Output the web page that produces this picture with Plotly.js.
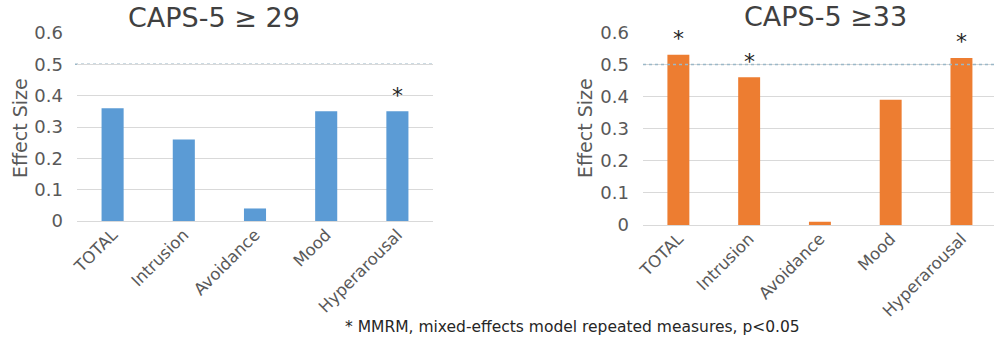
<!DOCTYPE html>
<html>
<head>
<meta charset="utf-8">
<script src="https://cdn.plot.ly/plotly-3.0.1.min.js"></script>
<style>html,body{margin:0;padding:0;background:#fff;}#chart{width:994px;height:341px;}</style>
</head>
<body>
<div id="chart"></div>
<script>
const categories = ["TOTAL", "Intrusion", "Avoidance", "Mood", "Hyperarousal"];
const effect29 = [0.36, 0.26, 0.04, 0.35, 0.35];
const effect33 = [0.53, 0.46, 0.01, 0.39, 0.52];
const sig29 = [false, false, false, false, true];
const sig33 = [true, true, false, false, true];
const threshold = 0.5;
const yTicks = [0, 0.1, 0.2, 0.3, 0.4, 0.5, 0.6];
const yTickText = ["0", "0.1", "0.2", "0.3", "0.4", "0.5", "0.6"];
const title29 = "CAPS-5 \u2265 29";
const title33 = "CAPS-5 \u226533";
const yTitle = "Effect Size";
const footnote = "* MMRM, mixed-effects model repeated measures, p<0.05";

const FONT = "DejaVu Sans, Verdana, sans-serif";
const GRAY = "#595959";

const traces = [
  {type: "bar", x: categories, y: effect29, xaxis: "x", yaxis: "y",
   marker: {color: "#5b9bd5"}, width: 0.31, hoverinfo: "x+y"},
  {type: "bar", x: categories, y: effect33, xaxis: "x2", yaxis: "y2",
   marker: {color: "#ed7d31"}, width: 0.31, hoverinfo: "x+y"}
];

function yaxisDef(domain, anchor) {
  return {
    domain: domain, range: [0, 0.6], tickvals: yTicks, ticktext: yTickText, anchor: anchor,
    showgrid: true, gridcolor: "#d9d9d9", gridwidth: 1,
    zeroline: true, zerolinecolor: "#d9d9d9", zerolinewidth: 1,
    showline: false, ticks: "", ticklen: 0, ticklabelstandoff: 13,
    tickfont: {family: FONT, size: 18, color: GRAY}
  };
}
function xaxisDef(domain, range, anchor) {
  return {
    domain: domain, range: range, anchor: anchor, type: "category",
    showgrid: false, zeroline: false, showline: false, ticks: "",
    tickangle: -45, tickfont: {family: FONT, size: 16.5, color: GRAY}
  };
}

const annotations = [
  {text: title29, xref: "paper", yref: "paper", x: 214/994, y: 1 - 18/341,
   xanchor: "center", yanchor: "middle",
   showarrow: false, font: {family: FONT, size: 27, color: "#404040"}},
  {text: title33, xref: "paper", yref: "paper", x: 825/994, y: 1 - 17/341,
   xanchor: "center", yanchor: "middle",
   showarrow: false, font: {family: FONT, size: 27, color: "#404040"}},
  {text: yTitle, xref: "paper", yref: "paper", x: 20/994, y: 1 - 128/341, textangle: -90,
   xanchor: "center", yanchor: "middle", showarrow: false,
   font: {family: FONT, size: 19, color: GRAY}},
  {text: yTitle, xref: "paper", yref: "paper", x: 585/994, y: 1 - 128/341, textangle: -90,
   xanchor: "center", yanchor: "middle", showarrow: false,
   font: {family: FONT, size: 19, color: GRAY}},
  {text: footnote, xref: "paper", yref: "paper", x: 343/994, xanchor: "left",
   y: 1 - 327/341, yanchor: "middle", showarrow: false,
   font: {family: FONT, size: 15.5, color: "#262626"}}
];
categories.forEach((c, i) => {
  if (sig29[i]) annotations.push({text: "*", xref: "x", yref: "y", x: c, y: effect29[i],
    yshift: 16, showarrow: false, font: {family: FONT, size: 22, color: "#262626"}});
  if (sig33[i]) annotations.push({text: "*", xref: "x2", yref: "y2", x: c, y: effect33[i],
    yshift: 16, showarrow: false, font: {family: FONT, size: 22, color: "#262626"}});
});

const shapes = [
  {type: "line", xref: "paper", yref: "y", x0: 75/994, x1: 433/994, y0: threshold, y1: threshold,
   line: {color: "#9bb8c8", width: 1.5, dash: "dot"}, layer: "below"},
  {type: "line", xref: "paper", yref: "y2", x0: 643/994, x1: 1, y0: threshold, y1: threshold,
   line: {color: "#9bb8c8", width: 1.5, dash: "dot"}, layer: "above"}
];

const layout = {
  width: 994, height: 341,
  margin: {l: 0, r: 0, t: 0, b: 0, pad: 0},
  paper_bgcolor: "#ffffff", plot_bgcolor: "#ffffff",
  showlegend: false,
  xaxis: xaxisDef([77/994, 433/994], [-0.5, 4.5], "y"),
  yaxis: yaxisDef([1 - 221/341, 1 - 33/341], "x"),
  xaxis2: xaxisDef([643/994, 1], [-0.5, 4.46], "y2"),
  yaxis2: yaxisDef([1 - 225/341, 1 - 32.3/341], "x2"),
  annotations: annotations,
  shapes: shapes
};

Plotly.newPlot("chart", traces, layout, {displayModeBar: false, staticPlot: true});
</script>
</body>
</html>
